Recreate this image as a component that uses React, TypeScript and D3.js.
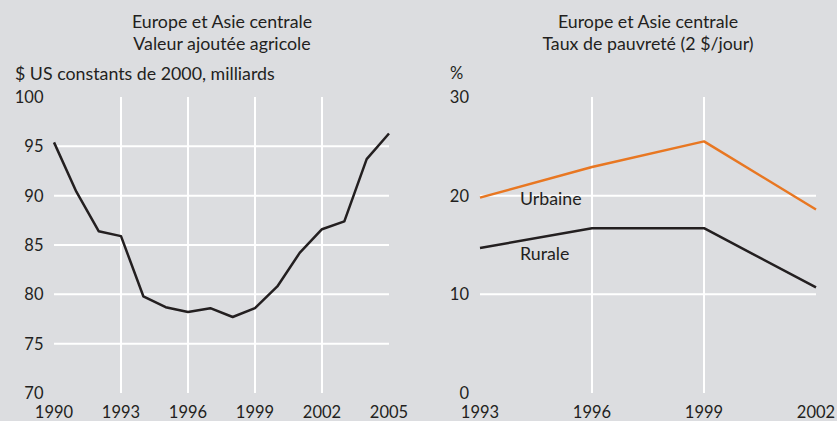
import React from 'react'
import * as d3 from 'd3'

// left panel: agricultural value added, constant 2000 US$ billions
const agriYears = [1990, 1991, 1992, 1993, 1994, 1995, 1996, 1997, 1998, 1999, 2000, 2001, 2002, 2003, 2004, 2005]
const agriValues = [95.4, 90.4, 86.4, 85.9, 79.8, 78.7, 78.2, 78.6, 77.7, 78.6, 80.8, 84.2, 86.6, 87.4, 93.7, 96.3]
const agriXTicks = [1990, 1993, 1996, 1999, 2002, 2005]
const agriYTicks = [70, 75, 80, 85, 90, 95, 100]

// right panel: poverty rate at $2/day
const povYears = [1993, 1996, 1999, 2002]
const urbanRates = [19.8, 22.9, 25.5, 18.6]
const ruralRates = [14.7, 16.7, 16.7, 10.7]
const povYTicks = [0, 10, 20, 30]

const W = 837, H = 421
const BG = '#dcdde0'
const INK = '#231f20'
const ORANGE = '#e87722'
const FONT = 'Lato, "Open Sans", sans-serif'

const top = 97, bottom = 393

export default function App() {
  // left scales
  const xL = d3.scaleLinear().domain([1990, 2005]).range([54, 389])
  const yL = d3.scaleLinear().domain([70, 100]).range([bottom, top])
  // right scales
  const xR = d3.scaleLinear().domain([1993, 2002]).range([480, 816])
  const yR = d3.scaleLinear().domain([0, 30]).range([bottom, top])

  const agriLine = d3.line<number>()
    .x((_, i) => xL(agriYears[i]))
    .y(d => yL(d))
  const povLine = d3.line<number>()
    .x((_, i) => xR(povYears[i]))
    .y(d => yR(d))

  // words are set larger than numbers so widths match the original's Calibri
  const txt = { fontFamily: FONT, fontSize: 17.8, fill: INK }
  const num = { fontFamily: FONT, fontSize: 16.5, fill: INK }

  return (
    <svg width={W} height={H} style={{ position: 'absolute', left: 0, top: 0 }}>
      <rect width={W} height={H} fill={BG} />

      {/* left panel */}
      <g>
        <text x={222} y={28} textAnchor="middle" {...txt}>Europe et Asie centrale</text>
        <text x={222} y={50} textAnchor="middle" {...txt}>Valeur ajoutée agricole</text>
        <text x={15} y={80} {...txt}>$ US constants de 2000, milliards</text>

        {agriYTicks.filter(t => t > 70 && t < 100).map(t => (
          <line key={'hl' + t} x1={xL(1990)} x2={xL(2005)} y1={yL(t)} y2={yL(t)} stroke="#fff" strokeWidth={2} />
        ))}
        {agriXTicks.filter(t => t > 1990 && t < 2005).map(t => (
          <line key={'vl' + t} x1={xL(t)} x2={xL(t)} y1={top} y2={bottom} stroke="#fff" strokeWidth={2} />
        ))}
        {agriYTicks.map(t => (
          <text key={'yl' + t} x={43.5} y={yL(t) + 6} textAnchor="end" {...num}>{t}</text>
        ))}
        {agriXTicks.map(t => (
          <text key={'xl' + t} x={xL(t)} y={418} textAnchor="middle" {...num}>{t}</text>
        ))}
        <path d={agriLine(agriValues) ?? ''} fill="none" stroke={INK} strokeWidth={2.5} strokeLinejoin="round" />
      </g>

      {/* right panel */}
      <g>
        <text x={648} y={28} textAnchor="middle" {...txt}>Europe et Asie centrale</text>
        <text x={648} y={50} textAnchor="middle" {...txt}>Taux de pauvreté (2 $/jour)</text>
        <text x={450} y={79} {...num}>%</text>

        {povYTicks.filter(t => t > 0 && t < 30).map(t => (
          <line key={'hr' + t} x1={xR(1993)} x2={xR(2002)} y1={yR(t)} y2={yR(t)} stroke="#fff" strokeWidth={2} />
        ))}
        {povYears.filter(t => t > 1993 && t < 2002).map(t => (
          <line key={'vr' + t} x1={xR(t)} x2={xR(t)} y1={top} y2={bottom} stroke="#fff" strokeWidth={2} />
        ))}
        {povYTicks.map(t => (
          <text key={'yr' + t} x={469} y={yR(t) + 6} textAnchor="end" {...num}>{t}</text>
        ))}
        {povYears.map(t => (
          <text key={'xr' + t} x={xR(t)} y={418} textAnchor="middle" {...num}>{t}</text>
        ))}
        <path d={povLine(urbanRates) ?? ''} fill="none" stroke={ORANGE} strokeWidth={2.5} strokeLinejoin="round" />
        <path d={povLine(ruralRates) ?? ''} fill="none" stroke={INK} strokeWidth={2.5} strokeLinejoin="round" />
        <text x={520} y={205} {...txt}>Urbaine</text>
        <text x={520} y={260} {...txt}>Rurale</text>
      </g>
    </svg>
  )
}
